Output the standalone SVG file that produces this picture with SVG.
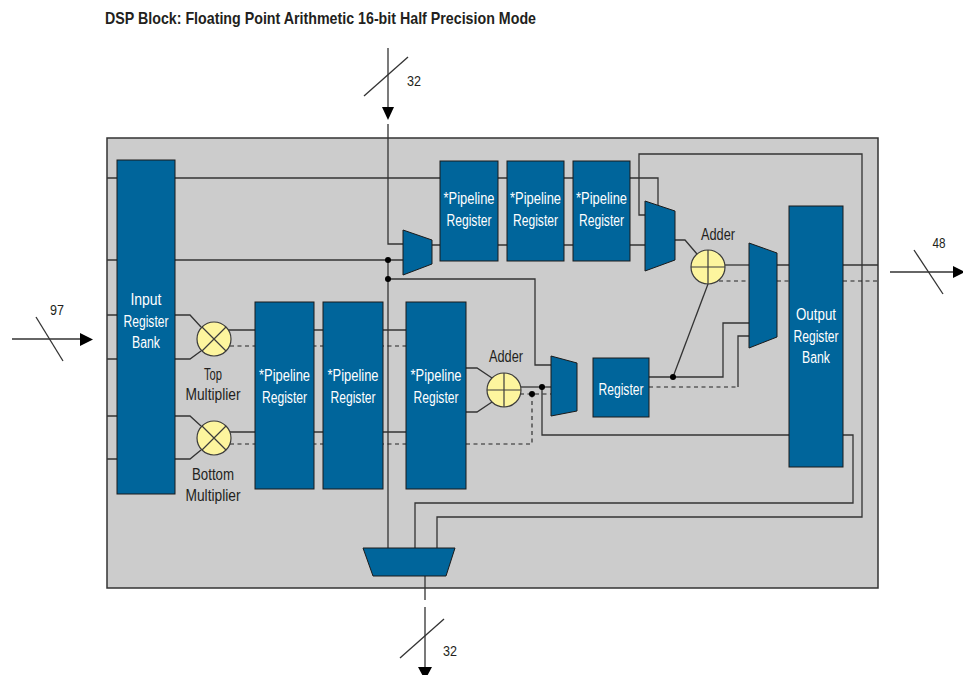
<svg xmlns="http://www.w3.org/2000/svg" width="963" height="675" viewBox="0 0 963 675">
<style>
.w{fill:none;stroke:#333;stroke-width:1.3}
.d{fill:none;stroke:#222;stroke-width:1.1;stroke-dasharray:4 3.5}
.blk{fill:#00659b;stroke:#1a1a1a;stroke-width:1}
.op{fill:#fdf59e;stroke:#3c3c3c;stroke-width:1.2}
.opl{stroke:#3c3c3c;stroke-width:1.2}
.dot{fill:#000}
.ah{fill:#000}
text{font-family:"Liberation Sans",Arial,sans-serif;font-size:16px}
.wt{fill:#fff;text-anchor:middle}
.bt{fill:#231f20;text-anchor:middle}
.num{font-size:15px}
</style>
<rect width="963" height="675" fill="#fff"/>
<text x="105" y="24" font-weight="bold" fill="#231f20" style="font-size:16.5px" textLength="431" lengthAdjust="spacingAndGlyphs">DSP Block: Floating Point Arithmetic 16-bit Half Precision Mode</text>
<g id="dsp-block">
<rect x="107" y="138" width="771" height="450" fill="#cccccc" stroke="#333" stroke-width="1.5"/>
</g>
<g id="connectors">
<path class="w" d="M388,48 V107"/>
<polygon class="ah" points="382,107 394,107 388,120"/>
<path class="w" d="M388,124 V244 H403"/>
<path class="w" d="M364,96 L408,57"/>
<path class="w" d="M107,178 H117 M107,260 H117 M107,315 H117 M107,359 H117 M107,416 H117 M107,459 H117"/>
<path class="w" d="M175,178 H658 V205"/>
<path class="w" d="M175,260 H403"/>
<path class="w" d="M388,260 V548"/>
<path class="w" d="M388,279 H535 V365 H551"/>
<path class="w" d="M432,245 H645"/>
<path class="w" d="M646,215 H639 V154 H862 V517 H437 V548"/>
<path class="w" d="M675,240 H685 L697,254"/>
<path class="w" d="M725,265 H749"/>
<path class="w" d="M777,265 H789 M843,265 H878"/>
<path class="d" d="M719,281 H749 M777,281 H789 M843,281 H878"/>
<path class="w" d="M649,377 H723 V323 H749"/>
<path class="w" d="M673,377 L708,284"/>
<path class="d" d="M649,387 H738"/>
<path class="w" d="M738,387 V336 H749"/>
<path class="w" d="M175,315 H190 L201,327 M175,359 H190 L201,351 M175,416 H190 L201,426 M175,459 H190 L201,450"/>
<path class="w" d="M228,330 H406 M230,432 H406"/>
<path class="d" d="M230,346 H406 M230,444 H406"/>
<path class="w" d="M466,368 H477 L492,378 M466,412 H477 L492,402"/>
<path class="w" d="M521,387 H551"/>
<path class="w" d="M542,387 V435 H853 V503 H415 V548"/>
<path class="d" d="M520,394 H551"/>
<path class="d" d="M466,444 H532 V394"/>
<path class="w" d="M425,576 V600 M425,607 V667"/>
<polygon class="ah" points="418,667 432,667 425,680"/>
<path class="w" d="M400,658 L444,619"/>
<path class="w" d="M890,272 H953"/>
<polygon class="ah" points="953,266 953,278 965,272"/>
<path class="w" d="M914,250 L943,294"/>
<path class="w" d="M12,339 H80"/>
<polygon class="ah" points="80,333 80,346 93,339.5"/>
<path class="w" d="M36,317 L63,361"/>
<circle class="dot" cx="388" cy="260" r="3"/>
<circle class="dot" cx="388" cy="279" r="3"/>
<circle class="dot" cx="542" cy="387" r="3"/>
<circle class="dot" cx="532" cy="394" r="3"/>
<circle class="dot" cx="673" cy="377" r="3"/>
</g>
<g id="input-register-bank">
<rect class="blk" x="117" y="160" width="58" height="334"/>
<text class="wt" x="146" y="305" textLength="31" lengthAdjust="spacingAndGlyphs">Input</text>
<text class="wt" x="146" y="327" textLength="45" lengthAdjust="spacingAndGlyphs">Register</text>
<text class="wt" x="146" y="348" textLength="28" lengthAdjust="spacingAndGlyphs">Bank</text>
</g>
<g id="top-multiplier">
<circle class="op" cx="214" cy="339" r="17"/>
<path class="opl" d="M202,327 L226,351 M226,327 L202,351"/>
<text class="bt" x="213" y="380" textLength="18" lengthAdjust="spacingAndGlyphs">Top</text>
<text class="bt" x="213" y="400" textLength="55" lengthAdjust="spacingAndGlyphs">Multiplier</text>
</g>
<g id="bottom-multiplier">
<circle class="op" cx="214" cy="438" r="17"/>
<path class="opl" d="M202,426 L226,450 M226,426 L202,450"/>
<text class="bt" x="213" y="480" textLength="42" lengthAdjust="spacingAndGlyphs">Bottom</text>
<text class="bt" x="213" y="501" textLength="55" lengthAdjust="spacingAndGlyphs">Multiplier</text>
</g>
<g id="pipeline-1">
<rect class="blk" x="255" y="302" width="59" height="187"/>
<text class="wt" x="284.5" y="381" textLength="51" lengthAdjust="spacingAndGlyphs">*Pipeline</text>
<text class="wt" x="284.5" y="403" textLength="45" lengthAdjust="spacingAndGlyphs">Register</text>
</g>
<g id="pipeline-2">
<rect class="blk" x="323" y="302" width="60" height="187"/>
<text class="wt" x="353" y="381" textLength="51" lengthAdjust="spacingAndGlyphs">*Pipeline</text>
<text class="wt" x="353" y="403" textLength="45" lengthAdjust="spacingAndGlyphs">Register</text>
</g>
<g id="pipeline-3">
<rect class="blk" x="406" y="302" width="60" height="187"/>
<text class="wt" x="436" y="381" textLength="51" lengthAdjust="spacingAndGlyphs">*Pipeline</text>
<text class="wt" x="436" y="403" textLength="45" lengthAdjust="spacingAndGlyphs">Register</text>
</g>
<g id="bottom-adder">
<circle class="op" cx="504" cy="390" r="17"/>
<path class="opl" d="M487,390 H521 M504,373 V407"/>
<text class="bt" x="506" y="362" textLength="34" lengthAdjust="spacingAndGlyphs">Adder</text>
</g>
<g id="mux-input">
<polygon class="blk" points="403,230 432,240 432,264 403,275"/>
</g>
<g id="pipeline-top-1">
<rect class="blk" x="440" y="161" width="58" height="100"/>
<text class="wt" x="469" y="204" textLength="51" lengthAdjust="spacingAndGlyphs">*Pipeline</text>
<text class="wt" x="469" y="226" textLength="45" lengthAdjust="spacingAndGlyphs">Register</text>
</g>
<g id="pipeline-top-2">
<rect class="blk" x="507" y="161" width="57" height="100"/>
<text class="wt" x="535.5" y="204" textLength="51" lengthAdjust="spacingAndGlyphs">*Pipeline</text>
<text class="wt" x="535.5" y="226" textLength="45" lengthAdjust="spacingAndGlyphs">Register</text>
</g>
<g id="pipeline-top-3">
<rect class="blk" x="573" y="161" width="57" height="100"/>
<text class="wt" x="601.5" y="204" textLength="51" lengthAdjust="spacingAndGlyphs">*Pipeline</text>
<text class="wt" x="601.5" y="226" textLength="45" lengthAdjust="spacingAndGlyphs">Register</text>
</g>
<g id="mux-top">
<polygon class="blk" points="645,201 675,211 675,260 645,271"/>
</g>
<g id="top-adder">
<circle class="op" cx="708" cy="267" r="17"/>
<path class="opl" d="M691,267 H725 M708,250 V284"/>
<text class="bt" x="718" y="240" textLength="34" lengthAdjust="spacingAndGlyphs">Adder</text>
</g>
<g id="mux-middle">
<polygon class="blk" points="551,356 577,363 577,411 551,416"/>
</g>
<g id="register">
<rect class="blk" x="593" y="358" width="56" height="59"/>
<text class="wt" x="621" y="395" textLength="45" lengthAdjust="spacingAndGlyphs">Register</text>
</g>
<g id="mux-output">
<polygon class="blk" points="749,243 777,253 777,337 749,348"/>
</g>
<g id="output-register-bank">
<rect class="blk" x="789" y="206" width="54" height="261"/>
<text class="wt" x="816" y="320" textLength="40" lengthAdjust="spacingAndGlyphs">Output</text>
<text class="wt" x="816" y="342" textLength="45" lengthAdjust="spacingAndGlyphs">Register</text>
<text class="wt" x="816" y="363" textLength="28" lengthAdjust="spacingAndGlyphs">Bank</text>
</g>
<g id="mux-bottom">
<polygon class="blk" points="363,548 455,548 446,576 373,576"/>
</g>
<g id="labels">
<text class="bt num" x="414" y="86" textLength="14" lengthAdjust="spacingAndGlyphs">32</text>
<text class="bt num" x="57" y="315" textLength="14" lengthAdjust="spacingAndGlyphs">97</text>
<text class="bt num" x="939" y="248" textLength="13" lengthAdjust="spacingAndGlyphs">48</text>
<text class="bt num" x="450" y="656" textLength="14" lengthAdjust="spacingAndGlyphs">32</text>
</g>
</svg>
